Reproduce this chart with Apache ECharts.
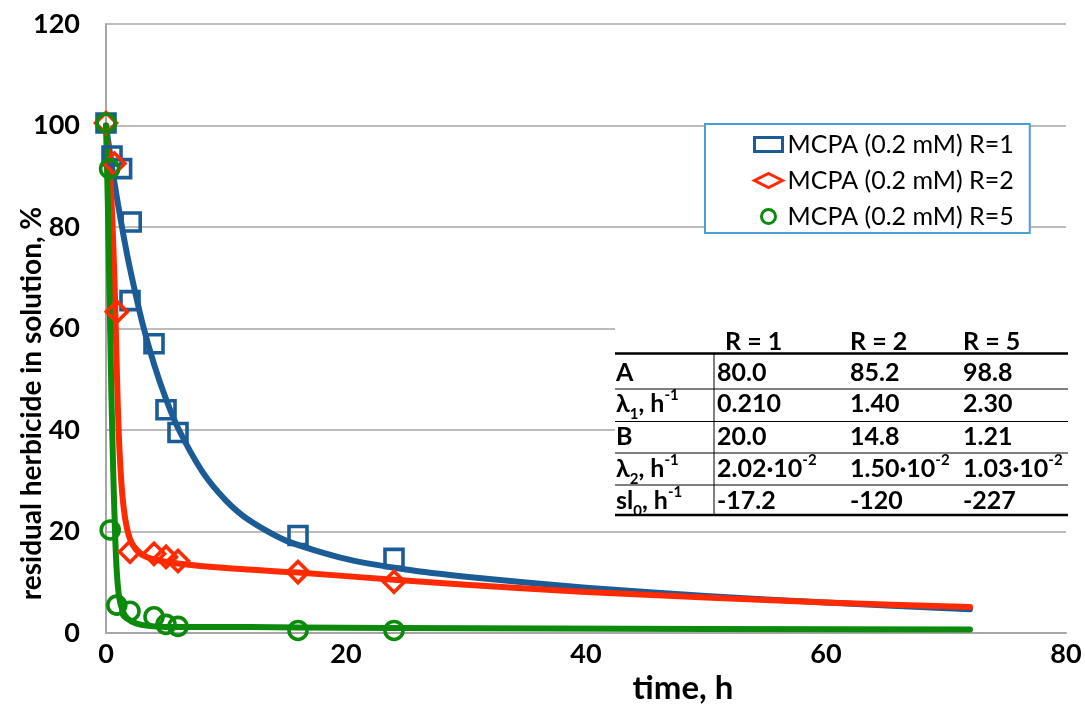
<!DOCTYPE html>
<html>
<head>
<meta charset="utf-8">
<script src="https://cdn.jsdelivr.net/npm/echarts@6/dist/echarts.min.js"></script>
<style>
html,body{margin:0;padding:0;background:#fff;}
#chart{width:1085px;height:704px;}
</style>
</head>
<body>
<div id="chart"></div>
<script>
// ---------- data ----------
const seriesNames = ['MCPA (0.2 mM) R=1', 'MCPA (0.2 mM) R=2', 'MCPA (0.2 mM) R=5'];
// measured points [time h, residual %]
const measR1 = [[0,100.5],[0.5,94],[1.3,91.5],[2.1,81],[2,65.5],[4,57],[5,44],[6,39.5],[16,19.2],[24,14.7]];
const measR2 = [[0,100.5],[0.7,92.5],[0.9,63.3],[2,16],[4,15.6],[5,15],[6,14.2],[16,12],[24,10.1]];
const measR5 = [[0,100.5],[0.3,91.5],[0.35,20.3],[0.9,5.5],[2,4.3],[4,3.2],[5,1.7],[6,1.3],[16,0.5],[24,0.5]];
// fitted curves
const fitR1 = [[0,100],[0.5,91.8],[1,84.5],[1.5,77.8],[2,71.8],[3,61.4],[4,53],[5,46.1],[6,40.4],[8,31.9],[10,26.1],[12,22.1],[15,18.2],[20,14.6],[25,12.5],[30,11.1],[40,8.9],[50,7.3],[60,6],[72,4.7]];
const fitR2 = [[0,100],[0.4,88],[0.7,70],[0.9,52],[1.05,40],[1.3,29],[1.6,22.5],[2,18.5],[2.5,16.4],[3,15.4],[4,14.5],[6,13.7],[10,12.8],[16,11.9],[24,10.5],[30,9.5],[40,8.1],[50,7],[60,6],[72,5.1]];
const fitR5 = [[0,100],[0.15,85],[0.3,66],[0.45,47],[0.6,32],[0.75,20],[0.9,12],[1.1,7],[1.4,4.3],[1.8,2.8],[2.5,1.9],[3.5,1.4],[5,1.2],[8,1.2],[16,1.1],[24,1],[37,0.9],[50,0.8],[72,0.7]];
// parameter table
const tableCols = ['R = 1', 'R = 2', 'R = 5'];
const tableRowLabels = ['A', 'λ{sub|1}, h{sup|-1}', 'B', 'λ{sub|2}, h{sup|-1}', 'sl{sub|0}, h{sup|-1}'];
const rowA = ['80.0', '85.2', '98.8'];
const rowLambda1 = ['0.210', '1.40', '2.30'];
const rowB = ['20.0', '14.8', '1.21'];
const rowLambda2 = ['2.02·10{sup|-2}', '1.50·10{sup|-2}', '1.03·10{sup|-2}'];
const rowSl0 = ['-17.2', '-120', '-227'];
const tableRows = [rowA, rowLambda1, rowB, rowLambda2, rowSl0];

// ---------- styles ----------
const colors = ['#1b5c97', '#ff2a00', '#0b8a0b'];
const symbols = ['rect', 'diamond', 'circle'];
const symbolSizes = [18, [21, 21], 18];
const FONT = 'Lato';

const chart = echarts.init(document.getElementById('chart'), null, {renderer: 'canvas'});

const fits = [fitR1, fitR2, fitR5];
const meas = [measR1, measR2, measR5];
const series = [];
fits.forEach((d, i) => {
  series.push({
    name: 'fit ' + seriesNames[i], type: 'line', data: d, showSymbol: false, symbol: 'none',
    smooth: 0.25, lineStyle: {color: colors[i], width: 6, cap: 'round', join: 'round'},
    z: 2 + i, silent: true
  });
});
meas.forEach((d, i) => {
  series.push({
    name: seriesNames[i], type: 'scatter', data: d, symbol: symbols[i], symbolSize: symbolSizes[i],
    itemStyle: {color: 'rgba(255,255,255,0)', borderColor: colors[i], borderWidth: 3.6, opacity: 1},
    z: 6 + i
  });
});

// table graphic
const T = {x0: 615, x1: 1068, colX: [717, 850, 963], headX: [725, 850, 963], labelX: 616,
  headY: 342, rowY: [373, 404, 437, 469, 501], lines: [389, 421.5, 453, 485], topLine: 353.5, botLine: 515, vX: 714};
const rich = {
  sub: {fontSize: 15, fontFamily: FONT, fontWeight: 'bold', verticalAlign: 'bottom', lineHeight: 12, padding: [0,0,-4,0]},
  sup: {fontSize: 15, fontFamily: FONT, fontWeight: 'bold', verticalAlign: 'top', lineHeight: 12, padding: [-2,0,0,0]}
};
const txt = (x, y, s) => ({
  type: 'text', x: x, y: y, z: 102,
  style: {text: s, fontFamily: FONT, fontWeight: 'bold', fontSize: 25, fill: '#000', lineHeight: 28,
    verticalAlign: 'middle', align: 'left', rich: rich}
});
const tableEls = [];
tableEls.push({type: 'rect', z: 100, shape: {x: T.x0, y: 320, width: T.x1 - T.x0 + 4, height: 200}, style: {fill: '#fff'}});
tableCols.forEach((c, j) => tableEls.push(txt(T.headX[j], T.headY, c)));
tableRowLabels.forEach((l, r) => tableEls.push(txt(T.labelX, T.rowY[r], l)));
tableRows.forEach((row, r) => row.forEach((v, j) => tableEls.push(txt(T.colX[j], T.rowY[r], v))));
const hline = (y, w) => ({type: 'line', z: 101, shape: {x1: T.x0, y1: y, x2: T.x1, y2: y}, style: {stroke: '#000', lineWidth: w}});
tableEls.push(hline(T.topLine, 2.5));
T.lines.forEach(y => tableEls.push(hline(y, 1)));
tableEls.push(hline(T.botLine, 2.5));
tableEls.push({type: 'line', z: 101, shape: {x1: T.vX, y1: T.topLine, x2: T.vX, y2: T.botLine}, style: {stroke: '#000', lineWidth: 1}});

const option = {
  backgroundColor: '#fff',
  animation: false,
  grid: {left: 106, right: 19, top: 24, bottom: 71, containLabel: false, outerBoundsMode: 'none'},
  xAxis: {
    type: 'value', min: 0, max: 80, interval: 20,
    name: 'time, h', nameLocation: 'middle', nameGap: 39, nameMoveOverlap: false,
    nameTextStyle: {fontFamily: FONT, fontWeight: 'bold', fontSize: 33, color: '#000', padding: [0, 0, 0, 194]},
    axisLine: {show: true, lineStyle: {color: '#a6a6a6', width: 2}},
    axisTick: {show: false},
    axisLabel: {fontFamily: FONT, fontWeight: 'bold', fontSize: 27, color: '#000', margin: 8},
    splitLine: {show: false}
  },
  yAxis: {
    type: 'value', min: 0, max: 120, interval: 20,
    name: 'residual herbicide in solution, %', nameLocation: 'middle', nameGap: 60, nameRotate: 90, nameMoveOverlap: false,
    nameTextStyle: {fontFamily: FONT, fontWeight: 'bold', fontSize: 28, color: '#000', padding: [0, 150, 0, 0]},
    axisLine: {show: true, lineStyle: {color: '#a6a6a6', width: 2}},
    axisTick: {show: false},
    axisLabel: {fontFamily: FONT, fontWeight: 'bold', fontSize: 27, color: '#000', margin: 26},
    splitLine: {show: true, lineStyle: {color: '#a6a6a6', width: 1.5}}
  },
  legend: {
    orient: 'vertical', left: 705, top: 124,
    data: seriesNames.map((n, i) => ({name: n, icon: symbols[i],
      itemStyle: {color: '#fff', borderColor: colors[i], borderWidth: 3}})),
    itemWidth: 28, itemHeight: 14, itemGap: 11, symbolKeepAspect: true,
    padding: [8, 16, 4, 48],
    borderColor: '#4a9fd8', borderWidth: 2, backgroundColor: '#fff',
    textStyle: {fontFamily: FONT, fontSize: 25, color: '#000'},
    selectedMode: false
  },
  graphic: [{type: 'group', children: tableEls}],
  series: series
};
chart.setOption(option);
</script>
</body>
</html>
